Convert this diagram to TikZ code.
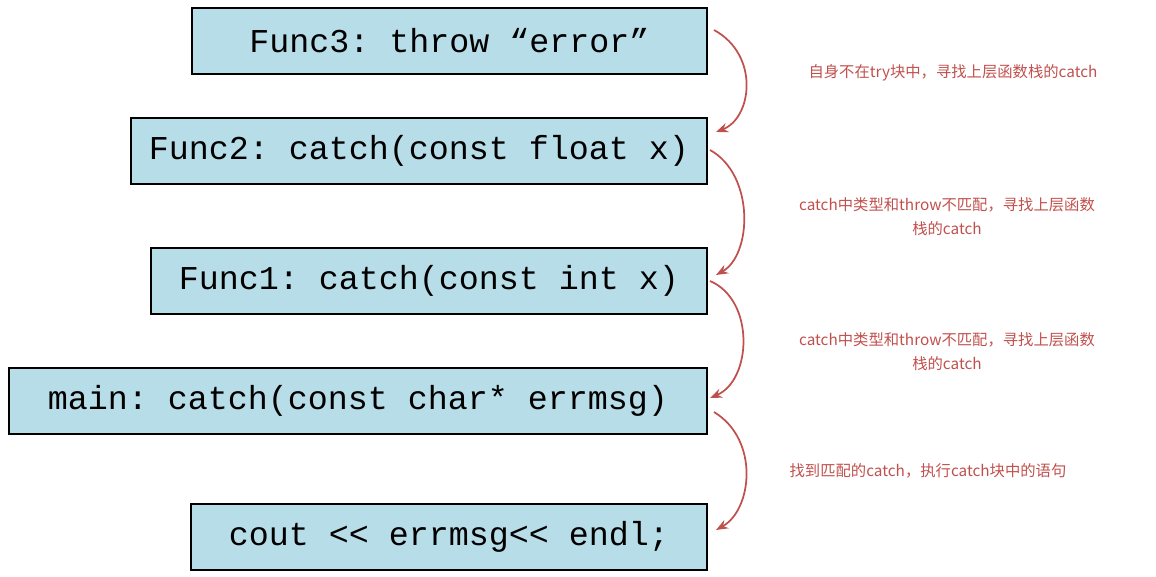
\documentclass[tikz,border=0pt]{standalone}
\usepackage{fontspec}
\setmonofont{Liberation Mono}
\newfontfamily\cjk{Noto Sans CJK SC}
\usetikzlibrary{arrows.meta}
\definecolor{boxblue}{HTML}{B7DDE8}
\definecolor{arrred}{HTML}{C0504D}
\tikzset{
  codebox/.style={draw=black, line width=1.5pt, fill=boxblue, anchor=north west, inner sep=0pt, font=\ttfamily\fontsize{25}{28}\selectfont},
  steparrow/.style={-{Stealth[length=9pt, width=7pt]}, draw=arrred, line width=1.3pt},
  note/.style={text=arrred, font=\cjk\fontsize{11.5}{18}\selectfont, align=center}
}
\begin{document}
\begin{tikzpicture}[x=0.75pt, y=-0.75pt]
\useasboundingbox (0,0) rectangle (1156,577);
\node [codebox, minimum width=386pt, minimum height=49.5pt] (func3) at (191,7) {Func3: throw “error”};
\node [codebox, minimum width=432pt, minimum height=49.5pt] (func2) at (130,117) {Func2: catch(const float x)};
\node [codebox, minimum width=417pt, minimum height=49.5pt] (func1) at (150,247) {Func1: catch(const int x)};
\node [codebox, minimum width=523.5pt, minimum height=49.5pt] (main) at (8,367) {main: catch(const char* errmsg)};
\node [codebox, minimum width=387pt, minimum height=49.5pt] (cout) at (190,503) {cout << errmsg<< endl;};

\coordinate (a1) at (714,30);  \coordinate (b1) at (716,132);
\coordinate (a2) at (710,150); \coordinate (b2) at (716,275);
\coordinate (a3) at (710,281); \coordinate (b3) at (710,398);
\coordinate (a4) at (714,412); \coordinate (b4) at (716,530);

\draw [steparrow] (a1) .. controls (760,55) and (752,118) .. (b1);
\draw [steparrow] (a2) .. controls (755,175) and (752,255) .. (b2);
\draw [steparrow] (a3) .. controls (755,300) and (752,380) .. (b3);
\draw [steparrow] (a4) .. controls (760,440) and (752,510) .. (b4);

\node [note] (n1) at (953,73) {自身不在try块中，寻找上层函数栈的catch};
\node [note] (n2) at (947,217) {catch中类型和throw不匹配，寻找上层函数\\栈的catch};
\node [note] (n3) at (947,352) {catch中类型和throw不匹配，寻找上层函数\\栈的catch};
\node [note] (n4) at (928,471) {找到匹配的catch，执行catch块中的语句};
\end{tikzpicture}
\end{document}
